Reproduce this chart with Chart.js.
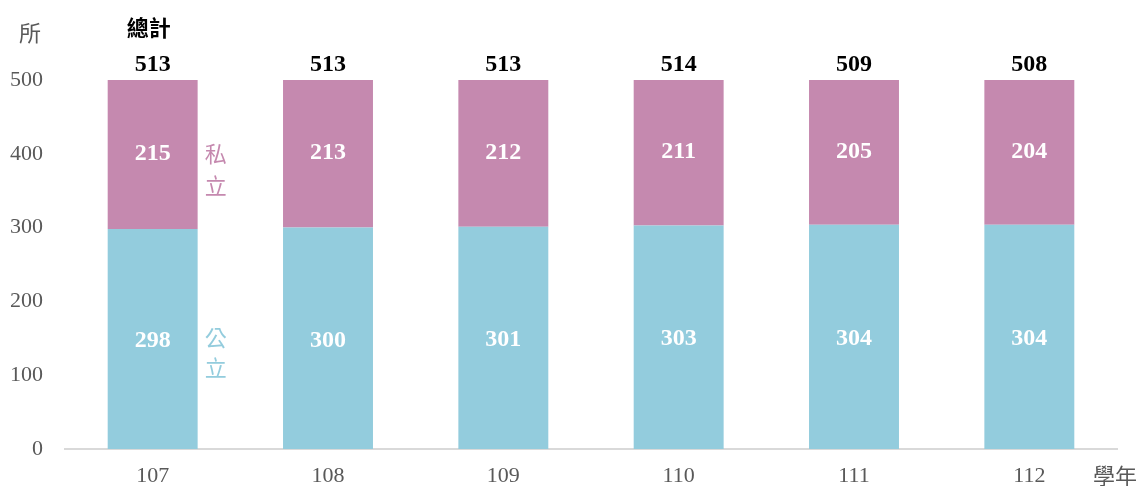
<!DOCTYPE html>
<html>
<head>
<meta charset="utf-8">
<script src="https://cdn.jsdelivr.net/npm/chart.js@4.4.1/dist/chart.umd.min.js"></script>
<style>
  html, body { margin: 0; padding: 0; background: #ffffff; }
  #wrap { width: 1141px; height: 486px; position: relative; }
</style>
</head>
<body>
<div id="wrap"><canvas id="c" width="1141" height="486"></canvas></div>
<script>
const categories = ['107', '108', '109', '110', '111', '112'];
const publicValues = [298, 300, 301, 303, 304, 304];
const privateValues = [215, 213, 212, 211, 205, 204];
const totalValues = [513, 513, 513, 514, 509, 508];
const yTicks = [0, 100, 200, 300, 400, 500];

const PUBLIC_COLOR = '#93CCDD';
const PRIVATE_COLOR = '#C589AF';
const SERIF = "'Liberation Serif', 'Times New Roman', serif";
const CJK = "'Noto Sans CJK TC', 'Noto Sans CJK SC', sans-serif";

const labelPlugin = {
  id: 'labels',
  afterDatasetsDraw(chart) {
    const ctx = chart.ctx;
    const area = chart.chartArea;
    const yScale = chart.scales.y;
    const xScale = chart.scales.x;
    ctx.save();
    ctx.textAlign = 'center';
    ctx.textBaseline = 'middle';
    // segment values
    chart.data.datasets.forEach((ds, di) => {
      const meta = chart.getDatasetMeta(di);
      meta.data.forEach((bar, i) => {
        const top = Math.max(bar.y, area.top);
        const cy = (top + bar.base) / 2 + (di === 1 ? -1 : 2);
        ctx.fillStyle = '#ffffff';
        ctx.font = 'bold 24px ' + SERIF;
        ctx.fillText(String(ds.data[i]), bar.x, cy);
      });
    });
    // totals
    const meta0 = chart.getDatasetMeta(0);
    meta0.data.forEach((bar, i) => {
      ctx.fillStyle = '#000000';
      ctx.font = 'bold 24px ' + SERIF;
      ctx.fillText(String(totalValues[i]), bar.x, area.top - 15);
    });
    // "總計"
    ctx.font = 'bold 22px ' + CJK;
    ctx.fillStyle = '#000000';
    ctx.fillText('總計', meta0.data[0].x - 4, area.top - 52);
    // unit labels
    ctx.font = '22px ' + CJK;
    ctx.fillStyle = '#595959';
    ctx.fillText('所', 30, area.top - 47);
    ctx.fillText('學年', area.right - 2, xScale.bottom - 10);
    // series labels next to first bar
    const b0 = meta0.data[0];
    const sx = b0.x + 63;
    const privMid = yScale.getPixelForValue((publicValues[0] + yScale.max) / 2);
    ctx.font = '22px ' + CJK;
    ctx.fillStyle = PRIVATE_COLOR;
    ctx.fillText('私', sx, privMid - 1);
    ctx.fillText('立', sx, privMid + 31);
    const pubMid = yScale.getPixelForValue(publicValues[0] / 2);
    ctx.fillStyle = PUBLIC_COLOR;
    ctx.fillText('公', sx, pubMid - 1);
    ctx.fillText('立', sx, pubMid + 29);
    ctx.restore();
  }
};

new Chart(document.getElementById('c'), {
  type: 'bar',
  data: {
    labels: categories,
    datasets: [
      { label: '公立', data: publicValues, backgroundColor: PUBLIC_COLOR, borderWidth: 0,
        categoryPercentage: 1, barPercentage: 0.513 },
      { label: '私立', data: privateValues, backgroundColor: PRIVATE_COLOR, borderWidth: 0,
        categoryPercentage: 1, barPercentage: 0.513 }
    ]
  },
  options: {
    responsive: false,
    animation: false,
    events: [],
    layout: { padding: { left: 0, right: 24, top: 80, bottom: 0 } },
    plugins: { legend: { display: false }, tooltip: { enabled: false }, title: { display: false } },
    scales: {
      x: {
        stacked: true,
        grid: { display: false, drawTicks: false },
        border: { display: true, color: '#d9d9d9', width: 2 },
        ticks: { color: '#595959', font: { family: SERIF, size: 22 }, padding: 14 },
        afterFit(s) { s.height = 37; }
      },
      y: {
        stacked: true,
        min: 0,
        max: 500,
        grid: { display: false, drawTicks: false },
        border: { display: false },
        afterBuildTicks(s) { s.ticks = yTicks.map(v => ({ value: v })); },
        ticks: { color: '#595959', font: { family: SERIF, size: 22 }, padding: 22 },
        afterFit(s) { s.width = 65; }
      }
    }
  },
  plugins: [labelPlugin]
});
</script>
</body>
</html>
